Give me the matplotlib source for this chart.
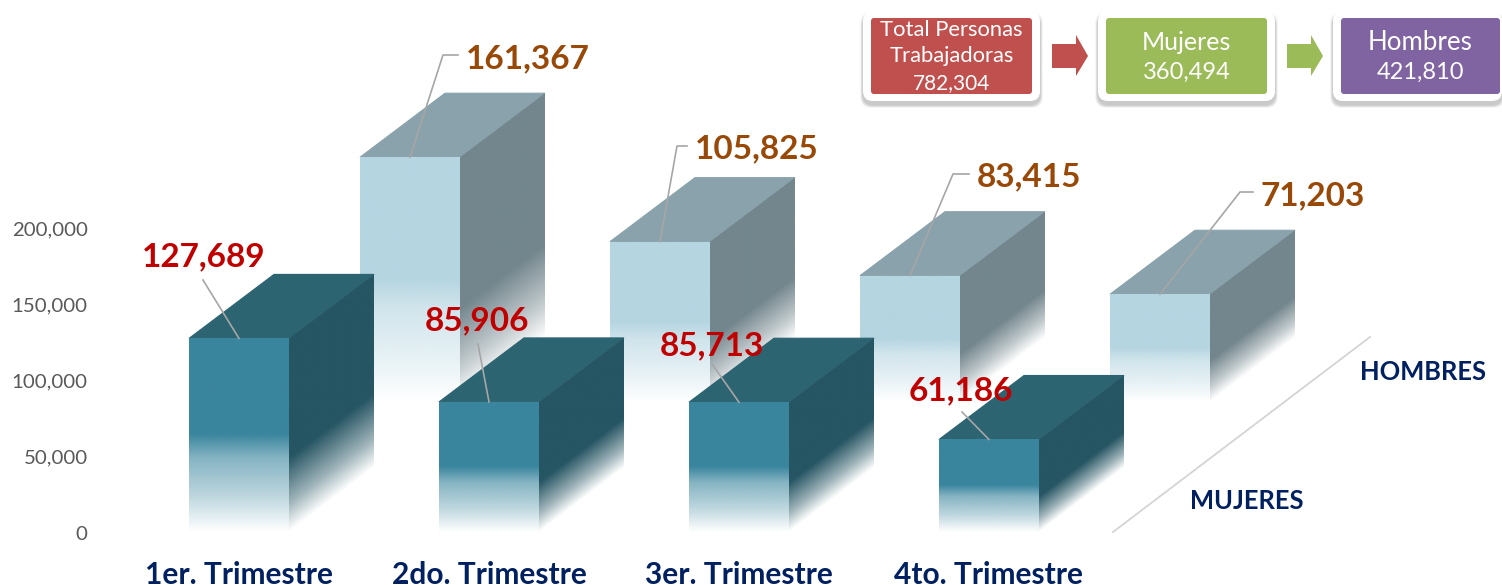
import numpy as np
import matplotlib
matplotlib.use("Agg")
import matplotlib.pyplot as plt
from matplotlib.patches import Polygon, FancyBboxPatch
from matplotlib.colors import to_rgb

plt.rcParams['font.family'] = ['Lato', 'DejaVu Sans']

# ---------- data ----------
categories = ['1er. Trimestre', '2do. Trimestre', '3er. Trimestre', '4to. Trimestre']
mujeres = [127689, 85906, 85713, 61186]
hombres = [161367, 105825, 83415, 71203]
yticks = [0, 50000, 100000, 150000, 200000]
total_label = ['Total Personas', 'Trabajadoras', '782,304']
mujeres_label = ['Mujeres', '360,494']
hombres_label = ['Hombres', '421,810']

W, H = 1502, 585
fig = plt.figure(figsize=(W / 100, H / 100), dpi=100, facecolor='white')

# scale constants (pixels)
PXC = 250.0        # px per category
PXV = 304 / 200000 # px per value unit
X0, Y0 = 239.0, 532.5
AL, AB = 100, 548
ax = fig.add_axes([AL / W, (H - AB) / H, (W - AL) / W, AB / H])
ax.set_xlim((AL - X0) / PXC, (W - X0) / PXC)
ax.set_ylim((Y0 - AB) / PXV, Y0 / PXV)
ax.patch.set_alpha(0)
for s in ax.spines.values():
    s.set_visible(False)

ov = fig.add_axes([0, 0, 1, 1], zorder=10)
ov.set_xlim(0, W)
ov.set_ylim(H, 0)
ov.axis('off')
ov.patch.set_alpha(0)

BAR_W = 100 / PXC
DX = 85 / PXC
DY = 64 / PXV


def front_alpha(t):
    return np.interp(t, [0, .5, .62, .82, 1], [1, 1, .62, .33, 0])


def side_alpha(t):
    return np.interp(t, [0, .62, .85, 1], [1, 1, .45, 0])


def grad_face(x0, x1, y0, y1, color, alpha, poly, z):
    rgb = to_rgb(color)
    ny, nx = 300, 120
    xs = np.linspace(0, 1, nx)
    ys = np.linspace(y1, y0, ny)
    xg, yg = np.meshgrid(xs, ys)
    a = alpha(xg, yg)
    img = np.zeros((ny, nx, 4))
    img[..., :3] = rgb
    img[..., 3] = a
    im = ax.imshow(img, extent=(x0, x1, y0, y1), aspect='auto', zorder=z, interpolation='bilinear')
    p = Polygon(poly, closed=True, transform=ax.transData, facecolor='none', edgecolor='none')
    ax.add_patch(p)
    im.set_clip_path(p)


def bar3d(x, base, v, front, top, side, z):
    xl, xr = x - BAR_W / 2, x + BAR_W / 2
    yt = base + v
    ax.add_patch(Polygon([(xl, yt), (xr, yt), (xr + DX, yt + DY), (xl + DX, yt + DY)],
                         closed=True, facecolor=top, edgecolor=top, lw=0.8, zorder=z))
    grad_face(xr, xr + DX, base, yt + DY, side,
              lambda u, y: side_alpha(np.clip((yt + u * DY - y) / v, 0, 1)),
              [(xr, base), (xr + DX, base + DY), (xr + DX, yt + DY), (xr, yt)], z + .1)
    grad_face(xl, xr, base, yt, front,
              lambda u, y: front_alpha(np.clip((yt - y) / v, 0, 1)),
              [(xl, base), (xr, base), (xr, yt), (xl, yt)], z + .2)


H_DX = 171 / PXC
H_DY = 130 / PXV
pos = np.arange(len(categories))
for i, v in enumerate(hombres):
    bar3d(pos[i] + H_DX, H_DY, v, '#B5D5E1', '#89A2AC', '#73868D', 2 + i * .01)
for i, v in enumerate(mujeres):
    bar3d(pos[i], 0, v, '#3A859E', '#2C6472', '#265563', 3 + i * .01)

ax.set_xlim((AL - X0) / PXC, (W - X0) / PXC)
ax.set_ylim((Y0 - AB) / PXV, Y0 / PXV)
ax.set_yticks(yticks)
ax.set_yticklabels([f'{t:,}' for t in yticks], fontsize=14.7, color='#595959')
ax.set_xticks(pos)
ax.set_xticklabels(categories, fontsize=21.5, fontweight='bold', color='#002060')
ax.tick_params(axis='y', length=0, pad=9)
ax.tick_params(axis='x', length=0, pad=9)


def to_px(x, y):
    return ov.transData.inverted().transform(ax.transData.transform((x, y)))


# leaders and value labels
LBL = 24
m_text = [(204, 257), (477, 321), (712, 346), (961, 391)]
m_knee = [(203, 280), (478, 344), (712, 364), (962, 412)]
for i, v in enumerate(mujeres):
    a = to_px(pos[i], v)
    ov.plot([a[0], m_knee[i][0]], [a[1], m_knee[i][1]], color='#A6A6A6', lw=1.2, zorder=5)
    ov.text(*m_text[i], f'{v:,}', color='#C00000', fontsize=LBL, fontweight='bold',
            ha='center', va='center', zorder=6)

h_text = [(466, 59), (695, 149), (977, 177), (1261, 196)]
h_knee = [(443, 55), (677, 146), (953, 174), (1240, 192)]
for i, v in enumerate(hombres):
    a = to_px(pos[i] + H_DX, H_DY + v)
    k = h_knee[i]
    ov.plot([a[0], k[0], h_text[i][0] - 8], [a[1], k[1], k[1]], color='#A6A6A6', lw=1.2, zorder=5)
    ov.text(*h_text[i], f'{v:,}', color='#984807', fontsize=LBL, fontweight='bold',
            ha='left', va='center', zorder=6)

# depth axis
ov.plot([1113, 1370], [532, 337], color='#D4D4D4', lw=1.3)
ov.text(1423, 372, 'HOMBRES', color='#002060', fontsize=18.4, fontweight='bold', ha='center', va='center')
ov.text(1247, 501, 'MUJERES', color='#002060', fontsize=18.4, fontweight='bold', ha='center', va='center')


# header boxes
def box(xo0, xo1, xi0, xi1, color, lines, ys, sizes):
    yo0, yo1 = 11, 101
    for k in [7, 6, 5, 4, 3, 2, 1]:
        ov.add_patch(FancyBboxPatch((xo0 - k * .4, yo0 + 4 - k * .4), xo1 - xo0 + k * .8, yo1 - yo0 + k * .8,
                                    boxstyle='round,pad=0,rounding_size=11', fc='black', ec='none', alpha=.03, zorder=1))
    ov.add_patch(FancyBboxPatch((xo0, yo0), xo1 - xo0, yo1 - yo0,
                                boxstyle='round,pad=0,rounding_size=10', fc='white', ec='none', zorder=2))
    ov.add_patch(FancyBboxPatch((xi0, 18), xi1 - xi0, 76,
                                boxstyle='round,pad=0,rounding_size=3', fc=color, ec='none', zorder=3))
    for t, y, fs in zip(lines, ys, sizes):
        ov.text((xi0 + xi1) / 2, y, t, color='white', fontsize=fs, ha='center', va='center', zorder=4)


box(863, 1040, 871, 1032, '#C0504D', total_label, [30, 56, 83], [15.8, 15.8, 15])
box(1098, 1275, 1106, 1267, '#9BBB59', mujeres_label, [42, 72], [18, 17])
box(1333, 1502, 1341, 1500, '#8064A2', hombres_label, [42, 72], [18.6, 17])


def arrow(x0, color):
    pts = [(x0, 44), (x0 + 24, 44), (x0 + 24, 35), (x0 + 36, 56), (x0 + 24, 76), (x0 + 24, 68), (x0, 68)]
    ov.add_patch(Polygon(pts, closed=True, fc=color, ec='none', zorder=3))


arrow(1052, '#C0504D')
arrow(1287, '#9BBB59')

fig.savefig('out.png', dpi=100, facecolor='white')
